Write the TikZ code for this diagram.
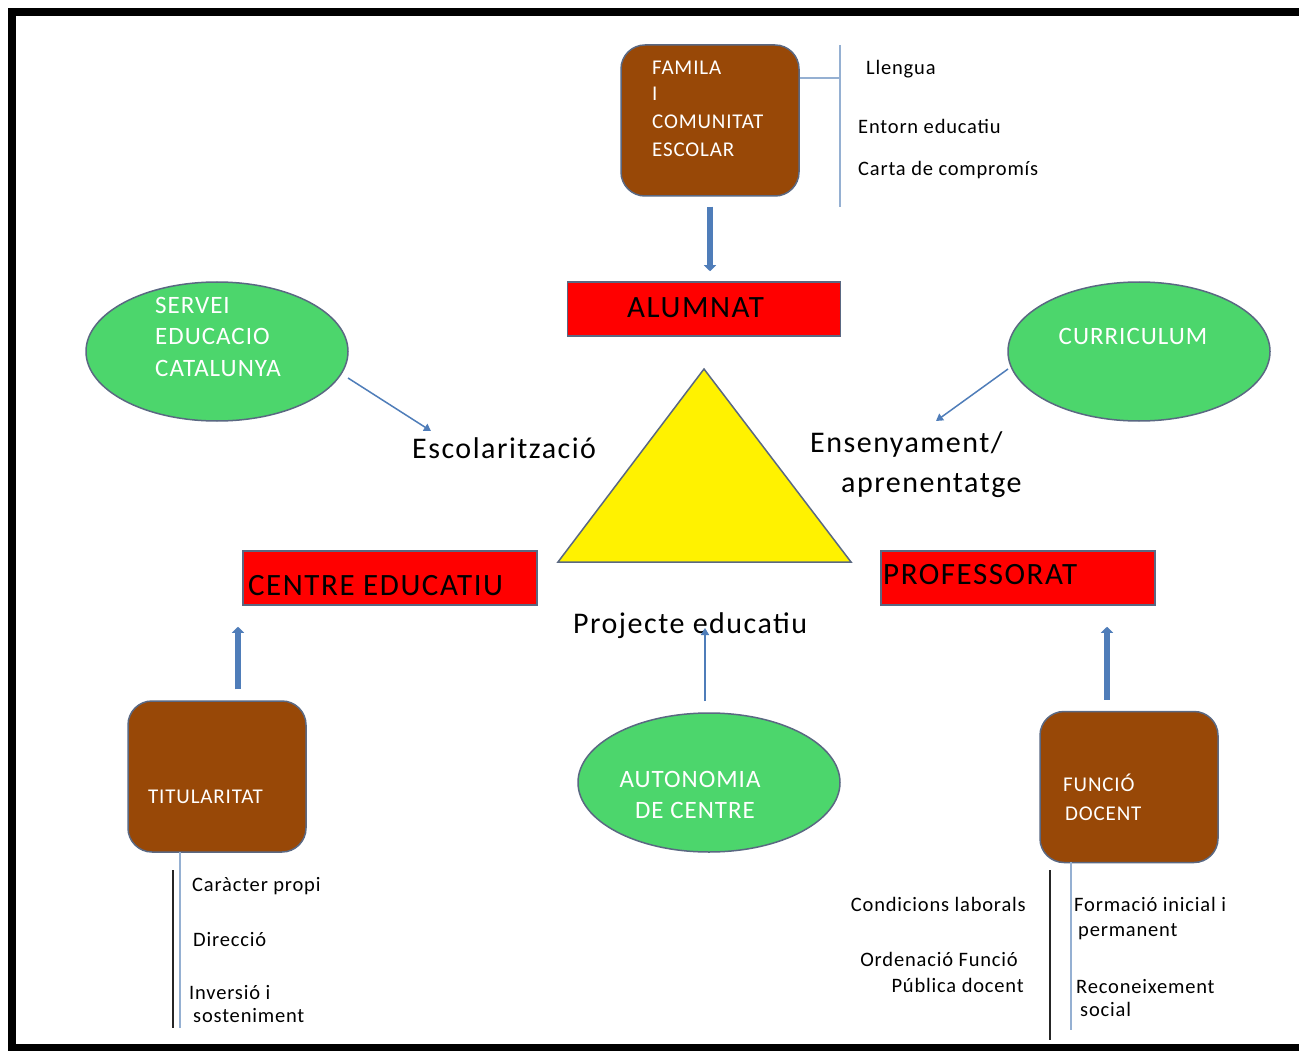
\documentclass[tikz,border=0pt]{standalone}
\usepackage{fontspec}
\setmainfont[LetterSpace=4]{Carlito}
\usetikzlibrary{shapes.geometric,arrows.meta}

\definecolor{brownbox}{RGB}{152,72,7}
\definecolor{greenell}{RGB}{76,214,108}
\definecolor{edgegray}{RGB}{90,104,130}
\definecolor{arrowblue}{RGB}{79,125,185}
\definecolor{branchblue}{RGB}{149,176,210}

\tikzset{
  brownrect/.style={draw=edgegray, line width=1.5pt, fill=brownbox, rounded corners=24pt,
    minimum width=178pt, minimum height=151pt, inner sep=0pt},
  redrect/.style={draw=edgegray, line width=1.5pt, fill=red,
    minimum width=273pt, minimum height=54pt, inner sep=0pt},
  greenell/.style={ellipse, draw=edgegray, line width=1.5pt, fill=greenell,
    minimum width=262pt, minimum height=139pt, inner sep=0pt},
  boxtxt/.style={anchor=base west, inner sep=0pt, text=white, font=\fontsize{21}{25}\selectfont},
  elltxt/.style={inner sep=0pt, text=white, font=\fontsize{25}{30}\selectfont},
  redtxt/.style={anchor=base west, inner sep=0pt, font=\fontsize{31}{36}\selectfont\addfontfeature{LetterSpace=5}},
  bigtxt/.style={anchor=base west, inner sep=0pt, font=\fontsize{30}{36}\selectfont\addfontfeature{LetterSpace=5}},
  sidetxt/.style={anchor=base west, inner sep=0pt, font=\fontsize{20.5}{24}\selectfont},
  sidetxtr/.style={anchor=base east, inner sep=0pt, font=\fontsize{20.5}{24}\selectfont},
  thickarrow/.style={draw=arrowblue, line width=6pt, -{Triangle[width=12pt,length=6pt]}},
  thinarrow/.style={draw=arrowblue, line width=1.5pt, -{Triangle[width=8pt,length=7pt]}},
  branch/.style={draw=branchblue, line width=1.5pt},
  rule/.style={draw=black!85, line width=1.5pt}
}

\begin{document}
\begin{tikzpicture}[x=1pt,y=-1pt]
\useasboundingbox (0,0) rectangle (1299,1051);
\begin{scope}
  \clip (0,0) rectangle (1299,1051);
  \fill[white] (0,0) rectangle (1299,1051);
  % outer frame, open beyond the right edge
  \draw[line width=8pt] (12,12) rectangle (1330,1048);
\end{scope}

% ---------- top: family block ----------
\node[brownrect] (fam) at (710,120.5) {};
\node[boxtxt] (famA) at (652,75) {FAMILA};
\node[boxtxt] (famB) at (652,101) {I};
\node[boxtxt] (famC) at (652,129) {COMUNITAT};
\node[boxtxt] (famD) at (652,156.5) {ESCOLAR};

\coordinate (famtop) at (840,45);
\coordinate (fambot) at (840,207);
\draw[branch] (famtop) -- (fambot);
\draw[branch] (fam.east |- 0,78) -- (840,78);
\node[sidetxt] (lleng) at (866,75) {Llengua};
\node[sidetxt] (entorn) at (858,134) {Entorn educatiu};
\node[sidetxt] (carta) at (858,176) {Carta de compromís};

\node[redrect] (alu) at (704,309) {};
\node[redtxt] (aluT) at (627,317) {ALUMNAT};
\draw[thickarrow, shorten <=10pt, shorten >=10pt] (fam.south) -- (fam.south |- alu.north);

% ---------- central triangle ----------
\draw[draw=edgegray, line width=1.5pt, fill=yellow] (704,369) -- (851,562) -- (558,562) -- cycle;

% ---------- left: school service ----------
\node[greenell] (serv) at (217,351.5) {};
\node[elltxt, anchor=base west] (servA) at (155,313) {SERVEI};
\node[elltxt, anchor=base west] (servB) at (155,344) {EDUCACIO};
\node[elltxt, anchor=base west] (servC) at (155,376) {CATALUNYA};
\node[bigtxt] (esc) at (412,458) {Escolarització};
\coordinate (escin) at (431,431);
\draw[thinarrow] (348,378) -- (escin);

% ---------- right: curriculum ----------
\node[greenell] (curr) at (1139,351.5) {};
\node[elltxt, anchor=base] (currT) at (1133,344) {CURRICULUM};
\node[bigtxt] (ens) at (810,452) {Ensenyament/};
\node[bigtxt] (apr) at (841,492) {aprenentatge};
\coordinate (ensin) at (936,421);
\draw[thinarrow] (1008,369) -- (ensin);

% ---------- red bars ----------
\node[redrect, minimum width=294pt] (cen) at (390,578) {};
\node[redtxt] (cenT) at (248,595) {CENTRE EDUCATIU};
\node[redrect, minimum width=274pt] (prof) at (1018,578) {};
\node[redtxt] (profT) at (883,584) {PROFESSORAT};

% ---------- centre: autonomy ----------
\node[bigtxt] (proj) at (573,633) {Projecte educatiu};
\node[greenell] (auto) at (709,782.5) {};
\node[elltxt, anchor=base] (autoA) at (690,787) {AUTONOMIA};
\node[elltxt, anchor=base] (autoB) at (695,818) {DE CENTRE};
\coordinate (projin) at (705,628);
\draw[thinarrow] (705,701) -- (projin);

% ---------- bottom left: ownership ----------
\node[brownrect] (tit) at (217,776.5) {};
\node[boxtxt] (titT) at (148,803) {TITULARITAT};
\draw[thickarrow, shorten <=11pt, shorten >=21pt] ([xshift=21pt]tit.north) -- ([xshift=21pt]tit.north |- cen.south);
\coordinate (titend) at (180,1028);
\draw[branch] (180,852) -- (titend);
\draw[rule] (173,870) -- (173,1028);
\node[sidetxt] (carac) at (192,891) {Caràcter propi};
\node[sidetxt] (direc) at (193,946) {Direcció};
\node[sidetxt] (inv) at (189,999) {Inversió i};
\node[sidetxt] (sost) at (193,1022) {sosteniment};

% ---------- bottom right: teaching role ----------
\node[brownrect] (func) at (1129,787) {};
\node[boxtxt] (funcA) at (1063,791) {FUNCIÓ};
\node[boxtxt] (funcB) at (1065,820) {DOCENT};
\draw[thickarrow, shorten <=11pt, shorten >=21pt] ([xshift=-22pt]func.north) -- ([xshift=-22pt]func.north |- prof.south);
\coordinate (funcend) at (1071,1030);
\draw[branch] (1071,862) -- (funcend);
\draw[rule] (1050,870) -- (1050,1040);
\node[sidetxt] (form) at (1074,911) {Formació inicial i};
\node[sidetxt] (perm) at (1078,936) {permanent};
\node[sidetxt] (recon) at (1076,993) {Reconeixement};
\node[sidetxt] (soc) at (1080,1016) {social};
\node[sidetxtr] (cond) at (1026,911) {Condicions laborals};
\node[sidetxtr] (orden) at (1018,966) {Ordenació Funció};
\node[sidetxtr] (publ) at (1024,992) {Pública docent};
\end{tikzpicture}
\end{document}
